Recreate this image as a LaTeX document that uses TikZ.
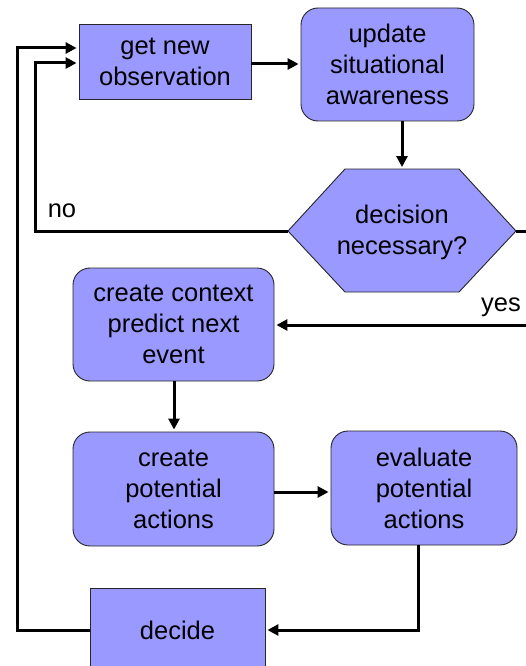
\documentclass[tikz,border=0pt]{standalone}
\usepackage{fontspec}
\setmainfont{Liberation Sans}
\usetikzlibrary{arrows.meta,calc}
\definecolor{boxfill}{HTML}{9999FF}
\begin{document}
\begin{tikzpicture}[x=1pt,y=-1pt,
  txt/.style={font=\fontsize{25.5}{31}\selectfont, align=center, text=black},
  sqbox/.style={txt, draw=black!85, line width=0.9pt, fill=boxfill, inner sep=0pt},
  rbox/.style={sqbox, rounded corners=17pt},
  arr/.style={line width=3pt, -{Triangle[length=11pt,width=11pt]}, shorten >=2pt},
  ln/.style={line width=3pt}]
\useasboundingbox (0,0) rectangle (526,666);
\clip (0,0) rectangle (526,666);
% nodes
\node[sqbox, minimum width=172pt, minimum height=75pt] (get) at (165,61.5) {get new\\observation};
\node[rbox, minimum width=173pt, minimum height=113pt] (upd) at (387.5,64.5) {update\\situational\\awareness};
% hexagon
\coordinate (dl) at (288,231);
\coordinate (dr) at (516,231);
\coordinate (dtop) at (402,169);
\filldraw[fill=boxfill, draw=black!85, line width=0.9pt]
  (dl) -- (345,169) -- (459,169) -- (dr) -- (459,292) -- (345,292) -- cycle;
\node[txt] (dec) at (402,232.5) {decision\\necessary?};
\node[rbox, minimum width=201pt, minimum height=113pt] (cctx) at (173.5,324.5) {create context\\predict next\\event};
\node[rbox, minimum width=201pt, minimum height=114pt] (cpot) at (173.5,489) {create\\potential\\actions};
\node[rbox, minimum width=186pt, minimum height=114pt] (eval) at (424,488) {evaluate\\potential\\actions};
\node[sqbox, minimum width=175pt, minimum height=84pt] (decide) at (177.5,630) {decide};
% labels
\node[txt] (no) at (62,211) {no};
\node[txt] (yes) at (501,307) {yes};
% connectors
\draw[arr] (get.east |- 0,64) -- (upd.west |- 0,64);
\draw[arr] (dtop |- upd.south) -- (dtop);
\draw[arr] (dl) -| (35,63) -- (get.west |- 0,63);
\draw[ln] (dr) -- (545,231) -- (545,325);
\draw[arr] (545,325) -- (cctx.east |- 0,325);
\draw[arr] (174,0 |- cctx.south) -- (174,0 |- cpot.north);
\draw[arr] (cpot.east |- 0,492) -- (eval.west |- 0,492);
\draw[arr] ([xshift=-6pt]eval.south) |- (decide.east);
\draw[arr] (decide.west) -| (17,48) -- (get.west |- 0,48);
\end{tikzpicture}
\end{document}
